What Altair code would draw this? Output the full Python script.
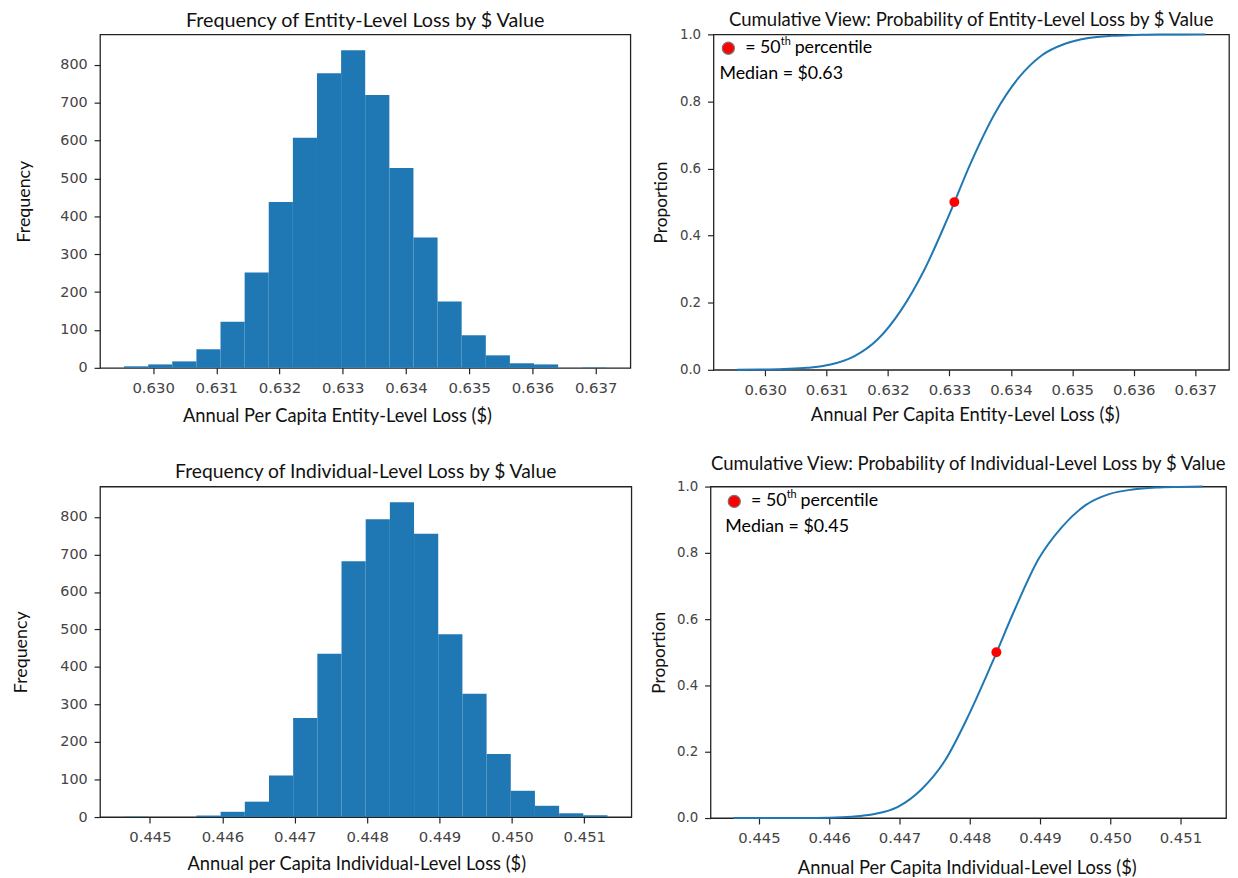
import altair as alt
import pandas as pd

# ---------------- data ----------------
# Entity-level loss: histogram bin edges (20 bins) and counts
ent_edges = [0.629540, 0.629922, 0.630303, 0.630685, 0.631066, 0.631448, 0.631829,
             0.632211, 0.632592, 0.632974, 0.633355, 0.633737, 0.634118, 0.634500,
             0.634881, 0.635263, 0.635644, 0.636026, 0.636407, 0.636789, 0.637170]
ent_counts = [4, 9, 17, 49, 122, 252, 438, 608, 778, 839,
              721, 528, 344, 175, 86, 33, 12, 9, 0, 1]

# Individual-level loss: histogram bin edges (20 bins) and counts
ind_edges = [0.444640, 0.444974, 0.445308, 0.445642, 0.445976, 0.446310, 0.446644,
             0.446978, 0.447312, 0.447646, 0.447980, 0.448314, 0.448648, 0.448982,
             0.449316, 0.449650, 0.449984, 0.450318, 0.450652, 0.450986, 0.451320]
ind_counts = [1, 0, 0, 4, 14, 41, 111, 264, 435, 682,
              794, 839, 755, 487, 329, 168, 70, 30, 10, 5]

medians = [0.63308, 0.44838]
median_labels = ["Median = $0.63", "Median = $0.45"]

ent_ticks = [0.630, 0.631, 0.632, 0.633, 0.634, 0.635, 0.636, 0.637]
ind_ticks = [0.445, 0.446, 0.447, 0.448, 0.449, 0.450, 0.451]
ent_domain = [0.62916, 0.63755]
ind_domain = [0.44431, 0.45165]
freq_ticks = [0, 100, 200, 300, 400, 500, 600, 700, 800]
prop_ticks = [0.0, 0.2, 0.4, 0.6, 0.8, 1.0]

titles = ["Frequency of Entity-Level Loss by $ Value",
          "Cumulative View: Probability of Entity-Level Loss by $ Value",
          "Frequency of Individual-Level Loss by $ Value",
          "Cumulative View: Probability of Individual-Level Loss by $ Value"]
xtitles = ["Annual Per Capita Entity-Level Loss ($)",
           "Annual Per Capita Entity-Level Loss ($)",
           "Annual per Capita Individual-Level Loss ($)",
           "Annual Per Capita Individual-Level Loss ($)"]

BLUE = "#1f77b4"
TITLE_FONT = "Lato"
LABEL_FONT = "DejaVu Sans"


def make_title(text, offset, size):
    return alt.TitleParams(text, offset=offset, fontSize=size, frame="group")


def hist_chart(edges, counts, ticks, domain, title, xtitle, w, h,
               ytx, xtx, xty, toff, tsize):
    df = pd.DataFrame({"lo": edges[:-1], "hi": edges[1:], "count": counts})
    x = alt.X("lo:Q",
              scale=alt.Scale(domain=domain, nice=False, zero=False),
              axis=alt.Axis(values=ticks, format=".3f", title=xtitle,
                            titleX=xtx, titleY=xty, titleBaseline="middle",
                            titleAlign="center", labelFontSize=15,
                            titleFontSize=18.5))
    y = alt.Y("count:Q",
              scale=alt.Scale(domain=[0, 881], nice=False),
              axis=alt.Axis(values=freq_ticks, title="Frequency",
                            titleX=ytx, titleBaseline="middle",
                            titleAngle=270, titleAlign="center",
                            labelFontSize=14.5, titleFontSize=18))
    return (alt.Chart(df)
            .mark_rect(color=BLUE)
            .encode(x=x, x2="hi:Q", y=y, y2=alt.datum(0))
            .properties(width=w, height=h, title=make_title(title, toff, tsize)))


def cdf_chart(edges, counts, median, mlabel, ticks, domain, title, xtitle,
              w, h, ytx, xtx, xty, toff, tsize, lx, ly):
    total = float(sum(counts))
    cum = [0.0]
    run = 0
    for c in counts:
        run += c
        cum.append(run / total)
    df = pd.DataFrame({"x": edges, "p": cum})
    xs = alt.Scale(domain=domain, nice=False, zero=False)
    ys = alt.Scale(domain=[0, 1], nice=False)
    x = alt.X("x:Q", scale=xs,
              axis=alt.Axis(values=ticks, format=".3f", title=xtitle,
                            titleX=xtx, titleY=xty, titleBaseline="middle",
                            titleAlign="center", labelFontSize=15,
                            titleFontSize=18.5))
    y = alt.Y("p:Q", scale=ys,
              axis=alt.Axis(values=prop_ticks, format=".1f", title="Proportion",
                            titleX=ytx, titleBaseline="middle",
                            titleAngle=270, titleAlign="center",
                            labelFontSize=13.5, titleFontSize=17.5))
    line = (alt.Chart(df)
            .mark_line(color=BLUE, strokeWidth=2, interpolate="monotone")
            .encode(x=x, y=y))
    mdf = pd.DataFrame({"x": [median], "p": [0.5]})
    dot = (alt.Chart(mdf)
           .mark_point(filled=True, color="red", size=100, opacity=1)
           .encode(x=alt.X("x:Q", scale=xs), y=alt.Y("p:Q", scale=ys)))
    one = pd.DataFrame({"k": [1]})
    leg_dot = (alt.Chart(one)
               .mark_point(filled=True, fill="red", stroke="#777",
                           strokeWidth=1.2, size=150, opacity=1)
               .encode(x=alt.value(lx), y=alt.value(ly)))
    t1 = (alt.Chart(one)
          .mark_text(text="= 50", align="left", baseline="middle",
                     font=TITLE_FONT, fontSize=18, color="black")
          .encode(x=alt.value(lx + 17), y=alt.value(ly)))
    t2 = (alt.Chart(one)
          .mark_text(text="th", align="left", baseline="middle",
                     font=TITLE_FONT, fontSize=11, color="black")
          .encode(x=alt.value(lx + 53), y=alt.value(ly - 6)))
    t3 = (alt.Chart(one)
          .mark_text(text="percentile", align="left", baseline="middle",
                     font=TITLE_FONT, fontSize=18, color="black")
          .encode(x=alt.value(lx + 67), y=alt.value(ly)))
    t4 = (alt.Chart(one)
          .mark_text(text=mlabel, align="left", baseline="middle",
                     font=TITLE_FONT, fontSize=18, color="black")
          .encode(x=alt.value(lx - 9), y=alt.value(ly + 26)))
    return (alt.layer(line, dot, leg_dot, t1, t2, t3, t4)
            .properties(width=w, height=h, title=make_title(title, toff, tsize)))


tl = hist_chart(ent_edges, ent_counts, ent_ticks, ent_domain, titles[0], xtitles[0],
                536, 337, -76, 239.5, 48, 3, 20)
tr = cdf_chart(ent_edges, ent_counts, medians[0], median_labels[0], ent_ticks, ent_domain,
               titles[1], xtitles[1], 521, 339, -52, 254, 45, -2, 18.7, 15, 14)
bl = hist_chart(ind_edges, ind_counts, ind_ticks, ind_domain, titles[2], xtitles[2],
                537, 334, -79, 259, 47, 4.5, 19.5)
br = cdf_chart(ind_edges, ind_counts, medians[1], median_labels[1], ind_ticks, ind_domain,
               titles[3], xtitles[3], 521, 335, -52, 259, 50, 6, 18.7, 24, 15)

chart = (alt.vconcat(alt.hconcat(tl, tr, spacing=21),
                     alt.hconcat(bl, br, spacing=17),
                     spacing=28)
         .properties(padding={"left": 4, "top": -3, "right": 0, "bottom": 0})
         .configure_view(stroke="#222", strokeWidth=1.3)
         .configure_axis(grid=False, domain=False, tickColor="#222", tickSize=6,
                         tickWidth=1.2, labelFont=LABEL_FONT, labelColor="#444",
                         labelPadding=7, titleFont=TITLE_FONT,
                         titleFontWeight="normal", titleColor="#111")
         .configure_title(font=TITLE_FONT, fontWeight="normal",
                          color="#111", anchor="middle"))

chart.save("out.html", embed_options={"renderer": "svg", "actions": False})
